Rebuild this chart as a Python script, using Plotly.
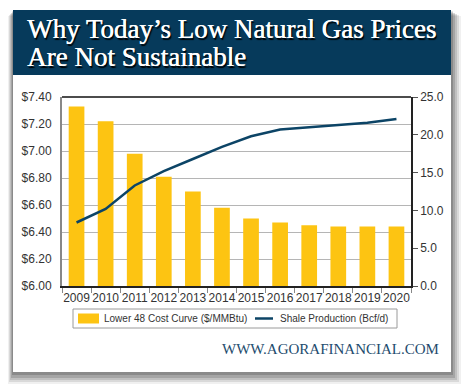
import plotly.graph_objects as go

years = ["2009", "2010", "2011", "2012", "2013", "2014", "2015", "2016", "2017", "2018", "2019", "2020"]
cost_curve = [7.33, 7.22, 6.98, 6.81, 6.70, 6.58, 6.50, 6.47, 6.45, 6.44, 6.44, 6.44]
shale_prod = [8.4, 10.2, 13.3, 15.2, 16.8, 18.4, 19.8, 20.7, 21.0, 21.3, 21.6, 22.1]
bar_name = "Lower 48 Cost Curve ($/MMBtu)"
line_name = "Shale Production (Bcf/d)"

BAR_COLOR = "#FDC412"
LINE_COLOR = "#0C4466"

W, H = 470, 392
OFF = 8  # page body margin in the browser
L, R, T, B = 62 - OFF, 411 - OFF, 97 - OFF, 286 - OFF
pw, ph = R - L, B - T

def px(x):
    return (x - OFF - L) / pw

def py(y):
    return (B - (y - OFF)) / ph

fig = go.Figure()
fig.add_trace(go.Bar(
    x=years, y=cost_curve, name=bar_name,
    marker=dict(color=BAR_COLOR, line=dict(width=0)),
    yaxis="y",
))
fig.add_trace(go.Scatter(
    x=years, y=shale_prod, name=line_name,
    mode="lines", line=dict(color=LINE_COLOR, width=2.5),
    yaxis="y2",
))

shapes = []
# drop shadow
for dx, dy, op in [(10, 12, 0.08), (8, 10, 0.12), (6, 8, 0.16), (4, 6, 0.20), (2, 3, 0.26)]:
    shapes.append(dict(type="rect", xref="paper", yref="paper", layer="below",
                       x0=px(13 - dx / 2), x1=px(451 + dx), y0=py(372 + dy), y1=py(10 + dy / 2),
                       fillcolor=f"rgba(60,60,60,{op})", line=dict(width=0)))
# card
shapes.append(dict(type="rect", xref="paper", yref="paper", layer="below",
                   x0=px(13), x1=px(451), y0=py(372), y1=py(10),
                   fillcolor="white", line=dict(width=0)))
# title band
shapes.append(dict(type="rect", xref="paper", yref="paper", layer="below",
                   x0=px(13), x1=px(451), y0=py(75), y1=py(10),
                   fillcolor="#063A5B", line=dict(width=0)))
# top border of plot
shapes.append(dict(type="line", xref="paper", yref="paper", x0=0, x1=1, y0=1, y1=1,
                   line=dict(color="#111111", width=1.5)))
# legend box
shapes.append(dict(type="rect", xref="paper", yref="paper",
                   x0=px(73), x1=px(397), y0=py(328), y1=py(309),
                   fillcolor="white", line=dict(color="#9A9A9A", width=1)))
# legend swatches
shapes.append(dict(type="rect", xref="paper", yref="paper",
                   x0=px(78), x1=px(99), y0=py(323.5), y1=py(313.5),
                   fillcolor=BAR_COLOR, line=dict(width=0)))
shapes.append(dict(type="line", xref="paper", yref="paper",
                   x0=px(255), x1=px(273), y0=py(318.5), y1=py(318.5),
                   line=dict(color=LINE_COLOR, width=2.5)))

title_font = dict(family="Liberation Serif", size=27, color="white",
                  shadow="0.5px 0px 0px #ffffff, 1.5px 1.5px 1px #000000")
legend_font = dict(family="Liberation Sans", size=10, color="#333333")
annotations = [
    dict(text="Why Today\u2019s Low Natural Gas Prices",
         xref="paper", yref="paper", x=px(25), y=py(29), xanchor="left", yanchor="middle",
         showarrow=False, font=title_font),
    dict(text="Are Not Sustainable",
         xref="paper", yref="paper", x=px(25), y=py(57), xanchor="left", yanchor="middle",
         showarrow=False, font=title_font),
    dict(text=bar_name, xref="paper", yref="paper", x=px(102), y=py(318.5),
         xanchor="left", yanchor="middle", showarrow=False, font=legend_font),
    dict(text=line_name, xref="paper", yref="paper", x=px(278), y=py(318.5),
         xanchor="left", yanchor="middle", showarrow=False, font=legend_font),
    dict(text="WWW.AGORAFINANCIAL.COM",
         xref="paper", yref="paper", x=px(441), y=py(349), xanchor="right", yanchor="middle",
         showarrow=False,
         font=dict(family="Liberation Serif", size=15, color="#1E4C6E")),
]

fig.update_layout(
    width=W, height=H,
    margin=dict(l=L, r=W - R, t=T, b=H - B, pad=0, autoexpand=False),
    paper_bgcolor="white",
    plot_bgcolor="rgba(0,0,0,0)",
    font=dict(family="Liberation Sans", size=12, color="#333333"),
    bargap=0.46,
    showlegend=False,
    xaxis=dict(type="category", showgrid=False, ticks="outside", tickson="boundaries",
               ticklen=5, tickcolor="#888888", showline=True, linecolor="#222222",
               linewidth=1.5, tickangle=0, automargin=False,
               tickfont=dict(family="Liberation Sans", size=12, color="#333333")),
    yaxis=dict(range=[6, 7.4], dtick=0.2, tickformat="$.2f", showgrid=True,
               gridcolor="#B5B5B5", gridwidth=1, showline=True, linecolor="#888888",
               linewidth=2, ticks="", zeroline=False, ticklabelstandoff=6, automargin=False,
               tickfont=dict(family="Liberation Sans", size=12, color="#333333")),
    yaxis2=dict(range=[0, 25], dtick=5, tickformat=".1f", overlaying="y", side="right",
                showgrid=False, showline=True, linecolor="#222222", linewidth=1.5,
                ticks="outside", ticklen=5, tickcolor="#555555", zeroline=False,
                automargin=False,
                tickfont=dict(family="Liberation Sans", size=12, color="#333333")),
    shapes=shapes,
    annotations=annotations,
)

fig.write_html("out.html")
